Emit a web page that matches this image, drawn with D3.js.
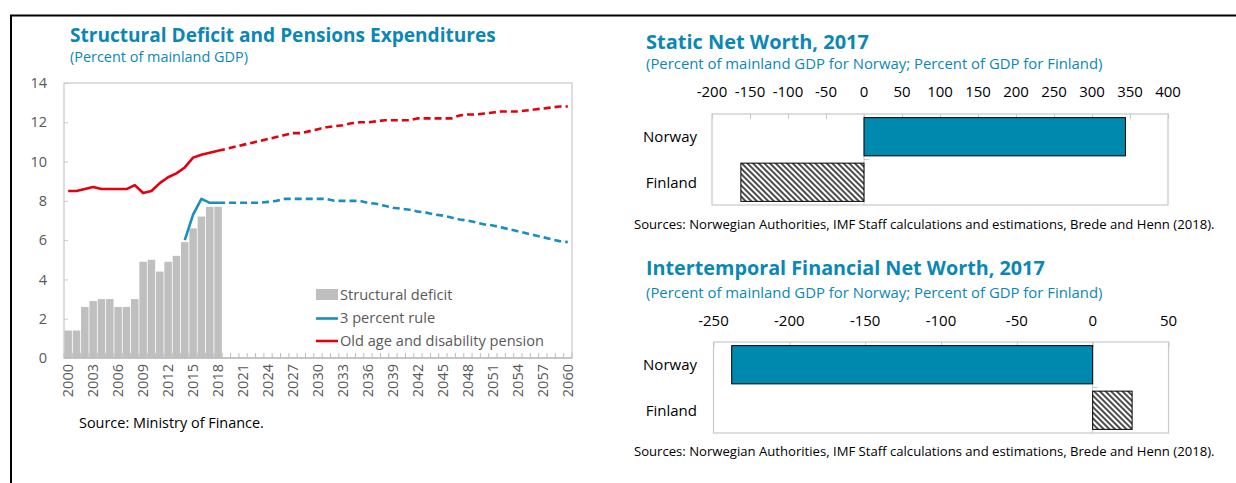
<!DOCTYPE html>
<html>
<head>
<meta charset="utf-8">
<script src="https://cdn.jsdelivr.net/npm/d3@7"></script>
<style>
  html, body { margin: 0; padding: 0; background: #fff; }
  svg { display: block; font-family: "Open Sans", "Noto Sans", sans-serif; }
</style>
</head>
<body>
<svg id="chart" width="1236" height="483"></svg>
<script>
// ---------- DATA ----------
const years = d3.range(2000, 2061);
const yTicks = [0, 2, 4, 6, 8, 10, 12, 14];
const deficitStart = 2000;
const deficitValues = [1.4, 1.4, 2.6, 2.9, 3.0, 3.0, 2.6, 2.6, 3.0, 4.9, 5.0, 4.4, 4.9, 5.2, 5.9, 6.6, 7.2, 7.7, 7.7];
const pensionStart = 2000;
const pensionValues = [8.5, 8.5, 8.6, 8.7, 8.6, 8.6, 8.6, 8.6, 8.8, 8.4, 8.5, 8.9, 9.2, 9.4, 9.7, 10.2, 10.35, 10.45, 10.55,
  10.65, 10.75, 10.85, 10.95, 11.05, 11.15, 11.25, 11.35, 11.45, 11.45, 11.55, 11.65, 11.75, 11.8, 11.85, 11.95, 12.0,
  12.0, 12.05, 12.1, 12.1, 12.1, 12.1, 12.2, 12.2, 12.2, 12.2, 12.2, 12.35, 12.4, 12.4, 12.45, 12.5, 12.55, 12.55,
  12.55, 12.6, 12.65, 12.7, 12.75, 12.8, 12.8];
const ruleStart = 2014;
const ruleValues = [6.0, 7.3, 8.1, 7.9, 7.9,
  7.9, 7.9, 7.9, 7.9, 7.9, 7.95, 8.0, 8.1, 8.1, 8.1, 8.1, 8.1, 8.1, 8.0, 8.0, 8.0, 8.0, 7.9, 7.85, 7.75, 7.65,
  7.6, 7.55, 7.45, 7.4, 7.3, 7.25, 7.15, 7.05, 7.0, 6.9, 6.8, 6.75, 6.65, 6.55, 6.45, 6.35, 6.25, 6.15, 6.05, 5.95, 5.9];
const lastActualYear = 2018;
const legendLabels = ["Structural deficit", "3 percent rule", "Old age and disability pension"];

const countries = ["Norway", "Finland"];
const staticValues = [344, -162];
const staticTicks = [-200, -150, -100, -50, 0, 50, 100, 150, 200, 250, 300, 350, 400];
const interValues = [-238, 26];
const interTicks = [-250, -200, -150, -100, -50, 0, 50];

// ---------- STYLE ----------
const TEAL = "#0B87B6";
const GRAYTXT = "#595959";
const FRAME = "#c9c9c9";
const RED = "#E3000F";
const BLUE = "#1A8EBD";
const BARBLUE = "#0089AF";

const svg = d3.select("#chart");

function fit(sel, width) {
  const len = sel.node().getComputedTextLength();
  const fs = parseFloat(sel.attr("font-size"));
  sel.attr("font-size", (fs * width / len).toFixed(2));
  return sel;
}

// panel borders
svg.append("line").attr("x1", 10).attr("x2", 1236).attr("y1", 15.5).attr("y2", 15.5)
  .attr("stroke", "#000").attr("stroke-width", 2);
svg.append("line").attr("x1", 11).attr("x2", 11).attr("y1", 15).attr("y2", 483)
  .attr("stroke", "#000").attr("stroke-width", 2);

// hatch pattern
const defs = svg.append("defs");
const pat = defs.append("pattern").attr("id", "hatch").attr("patternUnits", "userSpaceOnUse")
  .attr("width", 4).attr("height", 4).attr("patternTransform", "rotate(-45)");
pat.append("rect").attr("width", 4).attr("height", 4).attr("fill", "#fff");
pat.append("line").attr("x1", 1).attr("x2", 1).attr("y1", 0).attr("y2", 4)
  .attr("stroke", "#000").attr("stroke-width", 1.4);

// ---------- LEFT CHART ----------
fit(svg.append("text").attr("x", 70).attr("y", 42).attr("font-size", 19).attr("font-weight", 700)
  .attr("fill", TEAL).text("Structural Deficit and Pensions Expenditures"), 426);
fit(svg.append("text").attr("x", 70).attr("y", 62).attr("font-size", 14)
  .attr("fill", TEAL).text("(Percent of mainland GDP)"), 178);

const L = { left: 64, right: 572, top: 83, bottom: 358 };
const x = d3.scaleBand().domain(years).range([L.left, L.right]).paddingInner(0.1).paddingOuter(0.05);
const y = d3.scaleLinear().domain([0, 14]).range([L.bottom, L.top]);

// frame
svg.append("rect").attr("x", L.left).attr("y", L.top).attr("width", L.right - L.left)
  .attr("height", L.bottom - L.top).attr("fill", "none").attr("stroke", FRAME).attr("stroke-width", 1.2);

// y axis
const yAxis = d3.axisRight(y).tickValues(yTicks).tickSize(4).tickFormat("");
const gy = svg.append("g").attr("transform", `translate(${L.left},0)`).call(yAxis);
gy.select(".domain").remove();
gy.selectAll("line").attr("stroke", FRAME);
svg.append("g").selectAll("text").data(yTicks).join("text")
  .attr("x", 47).attr("y", d => y(d)).attr("dy", "0.35em").attr("text-anchor", "end")
  .attr("font-size", 14.5).attr("fill", GRAYTXT).text(d => d);

// bars
const deficitData = deficitValues.map((v, i) => ({ year: deficitStart + i, v }));
svg.append("g").selectAll("rect").data(deficitData).join("rect")
  .attr("x", d => x(d.year)).attr("width", x.bandwidth())
  .attr("y", d => y(d.v)).attr("height", d => y(0) - y(d.v)).attr("fill", "#bfbfbf");

// x axis (ticks at band boundaries pointing up)
const step = x.step();
const boundaries = years.map(yr => x(yr) - step * x.paddingInner() / 2).concat([L.right]);
svg.append("line").attr("x1", L.left).attr("x2", L.right).attr("y1", L.bottom).attr("y2", L.bottom)
  .attr("stroke", "#bdbdbd").attr("stroke-width", 1.5);
svg.append("g").selectAll("line").data(boundaries).join("line")
  .attr("x1", d => d).attr("x2", d => d).attr("y1", L.bottom).attr("y2", L.bottom - 5)
  .attr("stroke", "#bdbdbd").attr("stroke-width", 1);
svg.append("g").selectAll("text").data(years.filter(yr => (yr - 2000) % 3 === 0)).join("text")
  .attr("transform", d => `translate(${x(d) + x.bandwidth() / 2},364) rotate(-90)`)
  .attr("dy", "0.35em").attr("text-anchor", "end").attr("font-size", 14.5).attr("fill", GRAYTXT)
  .text(d => d);

// lines
const cx = yr => x(yr) + x.bandwidth() / 2;
const lineGen = d3.line().x(d => cx(d.year)).y(d => y(d.v));
const pensionData = pensionValues.map((v, i) => ({ year: pensionStart + i, v }));
const ruleData = ruleValues.map((v, i) => ({ year: ruleStart + i, v }));
function drawSeries(data, color) {
  svg.append("path").datum(data.filter(d => d.year >= lastActualYear)).attr("d", lineGen)
    .attr("fill", "none").attr("stroke", color).attr("stroke-width", 2.6).attr("stroke-dasharray", "7,4");
  svg.append("path").datum(data.filter(d => d.year <= lastActualYear)).attr("d", lineGen)
    .attr("fill", "none").attr("stroke", color).attr("stroke-width", 2.6).attr("stroke-linejoin", "round");
}
drawSeries(pensionData, RED);
drawSeries(ruleData, BLUE);

// legend
const lg = svg.append("g");
lg.append("rect").attr("x", 316).attr("y", 289).attr("width", 22).attr("height", 11).attr("fill", "#bfbfbf");
lg.append("line").attr("x1", 316).attr("x2", 338).attr("y1", 318.5).attr("y2", 318.5).attr("stroke", BLUE).attr("stroke-width", 2.6);
lg.append("line").attr("x1", 316).attr("x2", 338).attr("y1", 341).attr("y2", 341).attr("stroke", RED).attr("stroke-width", 2.6);
const lgY = [300, 323, 346];
const lgTexts = lg.selectAll("text").data(legendLabels).join("text")
  .attr("x", 340).attr("y", (d, i) => lgY[i]).attr("font-size", 14).attr("fill", GRAYTXT).text(d => d);
const lgW = lgTexts.nodes()[2].getComputedTextLength();
lgTexts.attr("font-size", (14 * 204 / lgW).toFixed(2));

fit(svg.append("text").attr("x", 79).attr("y", 428).attr("font-size", 13.5).attr("fill", "#000")
  .text("Source: Ministry of Finance."), 185);

// ---------- RIGHT CHARTS ----------
function hbar(opts) {
  const { title, titleW, titleY, subY, domain, range, top, bottom, ticks, values, labelY, srcY } = opts;
  fit(svg.append("text").attr("x", 646).attr("y", titleY).attr("font-size", 19).attr("font-weight", 700)
    .attr("fill", TEAL).text(title), titleW);
  fit(svg.append("text").attr("x", 646).attr("y", subY).attr("font-size", 14).attr("fill", TEAL)
    .text("(Percent of mainland GDP for Norway; Percent of GDP for Finland)"), 457);

  const xs = d3.scaleLinear().domain(domain).range(range);
  const ys = d3.scaleBand().domain(countries).range([top, bottom]).paddingInner(0.16).paddingOuter(0.08);

  svg.append("rect").attr("x", range[0]).attr("y", top).attr("width", range[1] - range[0])
    .attr("height", bottom - top).attr("fill", "none").attr("stroke", FRAME).attr("stroke-width", 1.2);

  const ax = d3.axisBottom(xs).tickValues(ticks).tickSize(5).tickFormat("");
  const g = svg.append("g").attr("transform", `translate(0,${top})`).call(ax);
  g.select(".domain").remove();
  g.selectAll("line").attr("stroke", FRAME);
  svg.append("g").selectAll("text").data(ticks).join("text")
    .attr("x", d => xs(d)).attr("y", labelY).attr("text-anchor", "middle")
    .attr("font-size", 15).attr("fill", "#000").text(d => d);

  // category axis at zero
  svg.append("line").attr("x1", xs(0)).attr("x2", xs(0)).attr("y1", top).attr("y2", bottom)
    .attr("stroke", FRAME).attr("stroke-width", 1);
  const mid = ys("Finland") - ys.step() * ys.paddingInner() / 2;
  svg.append("line").attr("x1", xs(0)).attr("x2", xs(0) + 5).attr("y1", mid).attr("y2", mid)
    .attr("stroke", FRAME).attr("stroke-width", 1);

  svg.append("g").selectAll("rect").data(countries).join("rect")
    .attr("x", (d, i) => xs(Math.min(0, values[i])))
    .attr("width", (d, i) => Math.abs(xs(values[i]) - xs(0)))
    .attr("y", d => ys(d)).attr("height", ys.bandwidth())
    .attr("fill", (d, i) => i === 0 ? BARBLUE : "url(#hatch)")
    .attr("stroke", "#000").attr("stroke-width", 1);

  svg.append("g").selectAll("text").data(countries).join("text")
    .attr("x", 697).attr("y", d => ys(d) + ys.bandwidth() / 2).attr("dy", "0.35em")
    .attr("text-anchor", "end").attr("font-size", 15).attr("fill", "#000").text(d => d);

  fit(svg.append("text").attr("x", 634).attr("y", srcY).attr("font-size", 12.5).attr("fill", "#000")
    .text("Sources: Norwegian Authorities, IMF Staff calculations and estimations, Brede and Henn (2018)."), 581);
}

hbar({ title: "Static Net Worth, 2017", titleW: 223, titleY: 49, subY: 69,
  domain: [-200, 400], range: [712, 1168], top: 114, bottom: 205, ticks: staticTicks,
  values: staticValues, labelY: 97, srcY: 229 });
hbar({ title: "Intertemporal Financial Net Worth, 2017", titleW: 399, titleY: 275, subY: 298,
  domain: [-250, 50], range: [713.5, 1168.5], top: 342, bottom: 433, ticks: interTicks,
  values: interValues, labelY: 326, srcY: 456 });
</script>
</body>
</html>
